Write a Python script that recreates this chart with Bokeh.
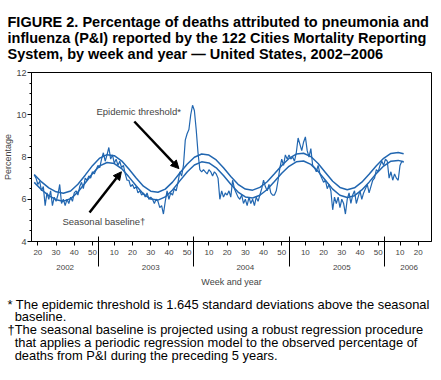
from bokeh.plotting import figure
from bokeh.models import Range1d, FixedTicker, LinearAxis, Label, Arrow, NormalHead, Title
from bokeh.embed import file_html
from bokeh.resources import INLINE

# ---------------- data ----------------
years = [2002, 2003, 2004, 2005, 2006]
weeks_before_year = [0, 52, 104, 157, 209]      # cumulative MMWR weeks (2004 has 53 weeks)
obs_first_week = [18, 1, 1, 1, 1]

obs_2002 = [7.15, 7.0, 6.7, 6.85, 6.4, 6.6, 5.7, 6.3, 6.0, 6.4, 5.7, 6.1, 5.9, 6.2, 6.7,
            5.8, 6.0, 5.7, 6.0, 5.8, 6.1, 5.9, 6.3, 6.4, 6.2, 6.6, 6.8, 6.5, 7.0, 6.9,
            7.1, 7.0, 7.3, 7.2, 7.4]
obs_2003 = [7.6, 7.5, 7.9, 8.2, 7.8, 8.1, 8.45, 7.9, 8.1, 7.7, 7.9, 7.6, 7.8, 7.5, 7.6,
            7.2, 6.9, 6.9, 6.6, 6.7, 6.5, 6.6, 6.3, 6.4, 6.2, 6.3, 6.1, 6.3, 6.0, 6.1,
            6.0, 5.8, 6.0, 5.9, 5.6, 5.7, 5.3, 5.9, 6.4, 6.0, 6.3, 6.2, 6.5, 6.4, 6.8,
            7.3, 7.1, 7.6, 8.8, 9.1, 9.3, 10.0]
obs_2004 = [10.45, 10.2, 9.3, 8.2, 7.4, 7.3, 7.4, 7.3, 7.2, 7.4, 7.3, 7.1, 7.3, 7.2, 7.0,
            6.0, 6.4, 6.1, 6.3, 6.2, 6.4, 6.1, 6.9, 6.5, 6.3, 6.1, 6.0, 6.2, 5.8, 6.0,
            5.7, 6.1, 5.8, 6.0, 5.7, 6.1, 5.9, 6.2, 6.5, 6.9, 6.6, 6.4, 6.7, 6.3, 6.2,
            6.2, 6.4, 6.9, 7.5, 7.9, 7.6, 8.1, 7.9]
obs_2005 = [8.1, 7.9, 8.0, 7.8, 8.2, 8.9, 8.6, 8.3, 8.7, 8.95, 8.3, 8.0, 8.4, 7.6, 7.5,
            7.3, 7.6, 7.2, 7.0, 6.8, 6.9, 6.5, 6.7, 6.4, 5.5, 6.1, 5.8, 6.1, 5.6, 6.0,
            5.8, 5.3, 6.0, 6.3, 5.8, 6.2, 6.4, 5.8, 6.1, 6.4, 6.0, 6.3, 6.5, 6.7, 6.3,
            6.6, 6.9, 7.0, 7.4, 7.3, 7.6, 7.8]
obs_2006 = [7.6, 7.9, 7.8, 7.0, 7.3, 6.9, 7.2, 7.0, 6.9, 7.6, 7.8, 7.75]

# smooth curves, read every 4 weeks (cumulative week index)
curve_weeks = [18, 22, 26, 30, 34, 38, 42, 46, 50, 54, 58, 62, 66, 70, 74, 78, 82, 86,
               90, 94, 98, 102, 106, 110, 114, 118, 122, 126, 130, 134, 138, 142, 146,
               150, 154, 158, 162, 166, 170, 174, 178, 182, 186, 190, 194, 198, 202,
               206, 210, 214, 218, 221]
baseline = [6.80, 6.45, 6.17, 5.98, 5.91, 6.02, 6.34, 6.77, 7.22, 7.58, 7.74, 7.69, 7.45,
            7.06, 6.64, 6.25, 6.01, 5.96, 6.11, 6.44, 6.87, 7.29, 7.62, 7.77, 7.72, 7.49,
            7.12, 6.71, 6.34, 6.11, 6.06, 6.19, 6.46, 6.84, 7.23, 7.56, 7.77, 7.81, 7.65,
            7.32, 6.90, 6.48, 6.19, 6.08, 6.17, 6.44, 6.81, 7.22, 7.57, 7.80, 7.84, 7.78]
threshold = [7.17, 6.82, 6.54, 6.35, 6.28, 6.39, 6.71, 7.14, 7.59, 7.95, 8.11, 8.06, 7.82,
             7.43, 7.01, 6.62, 6.38, 6.33, 6.48, 6.81, 7.24, 7.66, 7.99, 8.14, 8.09, 7.86,
             7.49, 7.08, 6.71, 6.48, 6.43, 6.56, 6.83, 7.21, 7.60, 7.93, 8.14, 8.18, 8.02,
             7.69, 7.27, 6.85, 6.56, 6.45, 6.54, 6.81, 7.18, 7.59, 7.94, 8.17, 8.21, 8.15]

week_ticks = [[20, 30, 40, 50], [10, 20, 30, 40, 50], [10, 20, 30, 40, 50],
              [10, 20, 30, 40, 50], [10, 20]]
y_major = [4, 6, 8, 10, 12]

title_lines = ["FIGURE 2. Percentage of deaths attributed to pneumonia and",
               "influenza (P&I) reported by the 122 Cities Mortality Reporting",
               "System, by week and year \u2014 United States, 2002\u20132006"]
foot_lines = ["* The epidemic threshold is 1.645 standard deviations above the seasonal",
              "\u00a0\u00a0baseline.",
              "\u2020The seasonal baseline is projected using a robust regression procedure",
              "\u00a0\u00a0that applies a periodic regression model to the observed percentage of",
              "\u00a0\u00a0deaths from P&I during the preceding 5 years."]

# ---------------- build ----------------
FONT = "Liberation Sans"
BLUE = "#2166b0"

obs_x, obs_y = [], []
for off, w0, vals in zip(weeks_before_year, obs_first_week,
                         [obs_2002, obs_2003, obs_2004, obs_2005, obs_2006]):
    for i, v in enumerate(vals):
        obs_x.append(off + w0 + i)
        obs_y.append(v)

tick_pos, tick_lab = [], {}
year_pos, year_lab = [], {}
sep_pos = []
for yr, off, wks in zip(years, weeks_before_year, week_ticks):
    for w in wks:
        tick_pos.append(off + w)
        tick_lab[off + w] = str(w)
    c = off + (wks[0] + wks[-1]) / 2
    year_pos.append(c)
    year_lab[c] = str(yr)
    if off > 0:
        sep_pos.append(off + 1.5)

p = figure(frame_width=400, frame_height=169, x_range=Range1d(16.5, 236.3),
           y_range=Range1d(4, 12), output_backend="svg", toolbar_location=None,
           min_border_left=24, min_border_right=1, min_border_top=0, min_border_bottom=0)
p.xgrid.visible = False
p.ygrid.visible = False
p.outline_line_color = "black"
p.outline_line_width = 1
p.background_fill_color = "white"
p.border_fill_color = "white"

p.line(curve_weeks, threshold, line_color=BLUE, line_width=1.5)
p.line(curve_weeks, baseline, line_color=BLUE, line_width=1.5)
p.line(obs_x, obs_y, line_color=BLUE, line_width=1.2)

# y axis
ya = p.yaxis[0]
ya.ticker = FixedTicker(ticks=y_major, minor_ticks=[4 + 0.5 * i for i in range(17)])
ya.axis_label = "Percentage"
ya.axis_label_text_font = FONT
ya.axis_label_text_font_size = "9px"
ya.axis_label_text_font_style = "normal"
ya.axis_label_standoff = 0
ya.major_label_text_font = FONT
ya.major_label_text_font_size = "9px"
ya.major_label_standoff = 1
ya.major_tick_in = 0
ya.major_tick_out = 4
ya.minor_tick_in = 0
ya.minor_tick_out = 2

# week axis
xa = p.xaxis[0]
xa.ticker = FixedTicker(ticks=tick_pos, minor_ticks=[])
xa.major_label_overrides = tick_lab
xa.major_label_text_font = FONT
xa.major_label_text_font_size = "8px"
xa.major_label_standoff = 4
xa.major_tick_in = 0
xa.major_tick_out = 4
xa.minor_tick_line_color = None

# year axis with separators
yr_axis = LinearAxis(ticker=FixedTicker(ticks=year_pos, minor_ticks=sep_pos),
                     major_label_overrides=year_lab,
                     axis_line_color=None, major_tick_line_color=None,
                     major_tick_in=0, major_tick_out=0,
                     minor_tick_in=21, minor_tick_out=9, minor_tick_line_color="black",
                     major_label_text_font=FONT, major_label_text_font_size="8px",
                     major_label_standoff=-2,
                     axis_label="Week and year", axis_label_text_font=FONT,
                     axis_label_text_font_size="9px", axis_label_text_font_style="normal",
                     axis_label_standoff=4)
p.add_layout(yr_axis, "below")

# annotations inside plot
p.add_layout(Label(x=52.2, y=10.15, text="Epidemic threshold*", text_font=FONT,
                   text_font_size="9.5px", text_baseline="middle"))
p.add_layout(Label(x=33.5, y=4.95, text="Seasonal baseline\u2020", text_font=FONT,
                   text_font_size="9.5px", text_baseline="middle"))
p.add_layout(Arrow(end=NormalHead(size=8, fill_color="black", line_color="black", line_width=1),
                   x_start=73.0, y_start=9.68, x_end=97.5, y_end=7.45,
                   line_width=2.5, line_color="black"))
p.add_layout(Arrow(end=NormalHead(size=8, fill_color="black", line_color="black", line_width=1),
                   x_start=48.4, y_start=5.37, x_end=65.9, y_end=7.3,
                   line_width=2.5, line_color="black"))

# title and footnotes
p.add_layout(Title(text="\n".join(title_lines), align="left", offset=-24, standoff=22,
                   text_font=FONT, text_font_size="14.5px", text_font_style="bold",
                   text_line_height=1.0, text_color="black"), "above")
p.add_layout(Title(text="\n".join(foot_lines), align="left", offset=-24, standoff=10,
                   text_font=FONT, text_font_size="12.9px", text_font_style="normal",
                   text_line_height=0.85, text_color="black"), "below")

open("out.html", "w").write(file_html(p, INLINE))
